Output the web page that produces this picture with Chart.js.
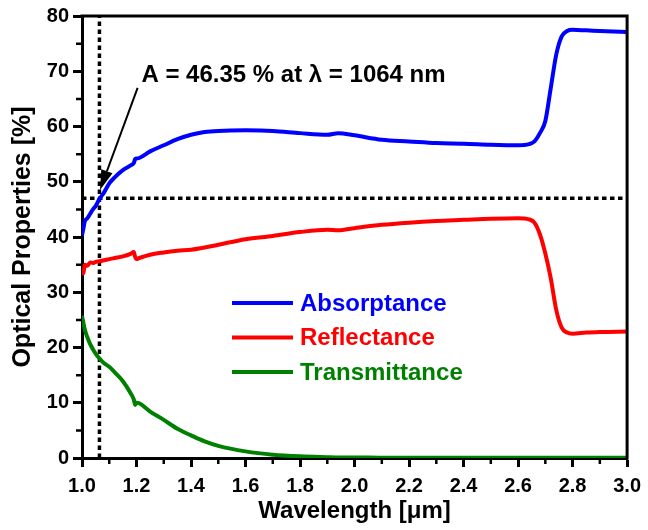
<!DOCTYPE html>
<html>
<head>
<meta charset="utf-8">
<script src="https://cdn.jsdelivr.net/npm/chart.js@4"></script>
<style>
  html, body { margin: 0; padding: 0; background: #fff; }
  #wrap { width: 648px; height: 530px; position: relative; }
</style>
</head>
<body>
<div id="wrap"><canvas id="opticalChart"></canvas></div>
<script>
const FONT = '"Liberation Sans", Arial, sans-serif';

// wavelength in um
const wavelength = [1.0, 1.005, 1.01, 1.02, 1.03, 1.04, 1.05, 1.064, 1.08, 1.1, 1.12, 1.15, 1.18, 1.19, 1.195, 1.2, 1.21, 1.25,
  1.3, 1.35, 1.4, 1.45, 1.5, 1.6, 1.7, 1.8, 1.9, 1.94, 2.0, 2.1, 2.2, 2.3, 2.4, 2.5, 2.6, 2.64, 2.66, 2.68, 2.7, 2.72, 2.74,
  2.76, 2.78, 2.8, 2.85, 2.9, 3.0];
const absorptance = [40.3, 41.5, 42.8, 43.4, 44.2, 45.0, 45.6, 46.9, 48.0, 49.7, 50.8, 52.1, 53.0, 53.4, 54.1, 54.2, 54.3, 55.5,
  56.6, 57.7, 58.5, 59.0, 59.2, 59.3, 59.2, 58.8, 58.5, 58.8, 58.4, 57.6, 57.3, 57.0, 56.9, 56.7, 56.6, 56.8, 57.3, 58.8, 61.0, 67.0, 73.0,
  76.3, 77.3, 77.5, 77.4, 77.3, 77.1];
const reflectance = [34.0, 33.4, 35.0, 34.8, 35.4, 35.3, 35.5, 35.6, 35.8, 36.0, 36.2, 36.5, 37.0, 37.3, 36.4, 36.0, 36.2, 36.8,
  37.2, 37.5, 37.7, 38.1, 38.6, 39.6, 40.2, 40.9, 41.3, 41.2, 41.6, 42.2, 42.6, 42.9, 43.1, 43.3, 43.4, 43.2, 42.6, 40.5, 37.0, 32.5, 26.8,
  23.6, 22.7, 22.5, 22.7, 22.8, 22.9];
const transmittance = [25.7, 24.5, 23.3, 21.8, 20.6, 19.7, 18.9, 18.0, 17.2, 16.5, 15.5, 13.9, 11.6, 10.6, 9.6, 10.0, 9.9, 8.4,
  6.9, 5.3, 4.1, 3.0, 2.2, 1.2, 0.6, 0.3, 0.15, 0.1, 0.1, 0.05, 0.05, 0.05, 0.05, 0.05, 0.05, 0.05, 0.05, 0.05, 0.05, 0.05, 0.05,
  0.05, 0.05, 0.05, 0.05, 0.05, 0.05];

const seriesNames = ['Absorptance', 'Reflectance', 'Transmittance'];
const seriesColors = ['#0000ff', '#ff0000', '#008000'];

// marker: 1064 nm
const markWl = 1.064;
const markA = 47;
const noteText = 'A = 46.35 % at \u03bb = 1064 nm';

const xTicks = [1.0, 1.2, 1.4, 1.6, 1.8, 2.0, 2.2, 2.4, 2.6, 2.8, 3.0];
const yTicks = [0, 10, 20, 30, 40, 50, 60, 70, 80];

const toPoints = ys => wavelength.map((x, i) => ({ x: x, y: ys[i] }));

const decorPlugin = {
  id: 'decor',
  afterDraw(chart) {
    const c = chart.ctx;
    const { left, right, top, bottom } = chart.chartArea;
    const xs = chart.scales.x, ys = chart.scales.y;
    c.save();
    // frame top + right
    c.strokeStyle = '#000';
    c.lineWidth = 3;
    c.beginPath();
    c.moveTo(left - 1.5, top);
    c.lineTo(right, top);
    c.lineTo(right, bottom + 1.5);
    c.stroke();

    // minor ticks
    c.lineWidth = 2.5;
    c.beginPath();
    for (let i = 0; i < xTicks.length - 1; i++) {
      const px = xs.getPixelForValue((xTicks[i] + xTicks[i + 1]) / 2);
      c.moveTo(px, bottom);
      c.lineTo(px, bottom + 6);
    }
    for (let i = 0; i < yTicks.length - 1; i++) {
      const py = ys.getPixelForValue((yTicks[i] + yTicks[i + 1]) / 2);
      c.moveTo(left, py);
      c.lineTo(left - 6, py);
    }
    c.stroke();

    // annotation text + arrow
    c.fillStyle = '#000';
    c.font = 'bold 24px ' + FONT;
    c.textBaseline = 'alphabetic';
    c.fillText(noteText, xs.getPixelForValue(1.218), ys.getPixelForValue(68.0));

    const x0 = xs.getPixelForValue(1.204), y0 = ys.getPixelForValue(67.0);
    const x1 = xs.getPixelForValue(1.066), y1 = ys.getPixelForValue(48.5);
    const ang = Math.atan2(y1 - y0, x1 - x0);
    const hl = 20, hw = 6;
    c.lineWidth = 2;
    c.beginPath();
    c.moveTo(x0, y0);
    c.lineTo(x1 - hl * Math.cos(ang), y1 - hl * Math.sin(ang));
    c.stroke();
    c.beginPath();
    c.moveTo(x1, y1);
    c.lineTo(x1 - hl * Math.cos(ang) + hw * Math.sin(ang), y1 - hl * Math.sin(ang) - hw * Math.cos(ang));
    c.lineTo(x1 - hl * Math.cos(ang) - hw * Math.sin(ang), y1 - hl * Math.sin(ang) + hw * Math.cos(ang));
    c.closePath();
    c.fill();

    // legend
    c.font = 'bold 24px ' + FONT;
    c.textBaseline = 'middle';
    seriesNames.forEach((name, i) => {
      const ly = top + 287 + i * 34.5;
      c.strokeStyle = seriesColors[i];
      c.lineWidth = 4;
      c.beginPath();
      c.moveTo(left + 150, ly);
      c.lineTo(left + 211, ly);
      c.stroke();
      c.fillStyle = seriesColors[i];
      c.fillText(name, left + 218, ly + 1);
    });
    c.restore();
  }
};

const datasets = [absorptance, reflectance, transmittance].map((vals, i) => ({
  label: seriesNames[i],
  data: toPoints(vals),
  borderColor: seriesColors[i],
  borderWidth: 4,
  pointRadius: 0,
  cubicInterpolationMode: 'monotone',
  fill: false
}));

datasets.push({
  label: 'mark-v',
  data: [{ x: markWl, y: 0 }, { x: markWl, y: 80 }],
  borderColor: '#000',
  borderWidth: 3.5,
  borderDash: [4.5, 3.5],
  pointRadius: 0
});
datasets.push({
  label: 'mark-h',
  data: [{ x: 1.0, y: markA }, { x: 3.0, y: markA }],
  borderColor: '#000',
  borderWidth: 3.5,
  borderDash: [4.5, 3.5],
  pointRadius: 0
});

new Chart(document.getElementById('opticalChart').getContext('2d'), {
  type: 'line',
  data: { datasets: datasets },
  options: {
    responsive: true,
    maintainAspectRatio: false,
    animation: false,
    devicePixelRatio: 1,
    layout: { padding: { top: 16, right: 16, left: 0, bottom: 0 } },
    plugins: { legend: { display: false }, tooltip: { enabled: false } },
    scales: {
      x: {
        type: 'linear',
        min: 1,
        max: 3,
        afterFit(scale) { scale.height = 72; },
        afterBuildTicks(scale) { scale.ticks = xTicks.map(v => ({ value: v })); },
        ticks: {
          callback: v => Number(v).toFixed(1),
          color: '#000',
          font: { family: FONT, size: 20, weight: 'bold' },
          padding: 7,
          maxRotation: 0
        },
        grid: { drawOnChartArea: false, drawTicks: true, tickLength: 9, tickWidth: 3, tickColor: '#000' },
        border: { display: true, color: '#000', width: 3 },
        title: {
          display: true,
          text: 'Wavelength [\u03bcm]',
          color: '#000',
          font: { family: FONT, size: 24, weight: 'bold' },
          padding: { top: 0, bottom: 4 }
        }
      },
      y: {
        min: 0,
        max: 80,
        afterFit(scale) { scale.width = 82; },
        afterBuildTicks(scale) { scale.ticks = yTicks.map(v => ({ value: v })); },
        ticks: {
          color: '#000',
          font: { family: FONT, size: 20, weight: 'bold' },
          padding: 4
        },
        grid: { drawOnChartArea: false, drawTicks: true, tickLength: 9, tickWidth: 3, tickColor: '#000' },
        border: { display: true, color: '#000', width: 3 },
        title: {
          display: true,
          text: 'Optical Properties [%]',
          color: '#000',
          font: { family: FONT, size: 25, weight: 'bold' },
          padding: { top: 8, bottom: 0 }
        }
      }
    }
  },
  plugins: [decorPlugin]
});
</script>
</body>
</html>
